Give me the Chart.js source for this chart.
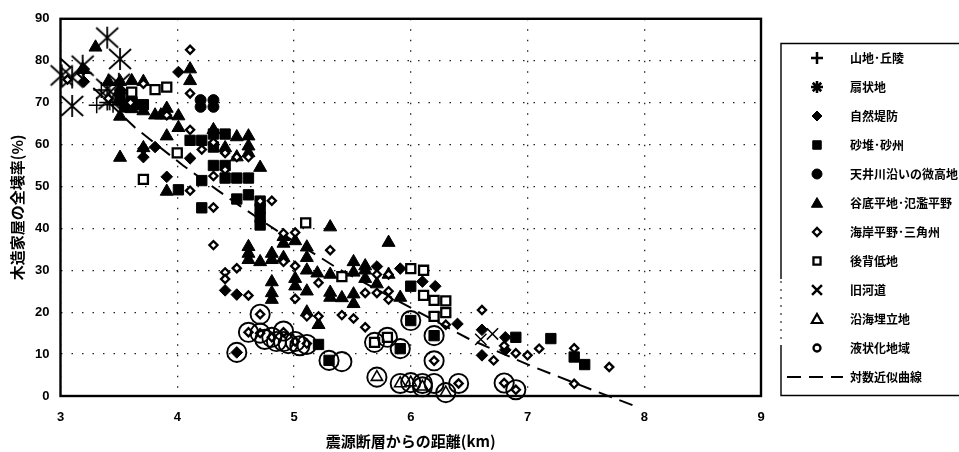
<!DOCTYPE html>
<html><head><meta charset="utf-8">
<style>html,body{margin:0;padding:0;background:#fff}canvas{display:block}</style>
<script src="https://cdn.jsdelivr.net/npm/chart.js@4"></script></head>
<body><canvas id="c" width="959" height="452"></canvas>
<script>
const xTicksTitle = '震源断層からの距離(km)';
const yTicksTitle = '木造家屋の全壊率(%)';
const sanchi = [[3.31,69.4],[3.4,70],[3.35,73],[3.45,69.5],[3.2,77]];
const senjo = [[3.01,76.5],[3.1,69.2],[3.1,76],[3.19,78.8],[3.4,85.5],[3.51,80.4],[3.4,73.3],[3.42,70.8],[3.5,74.5]];
const shizen = [[4.01,77.3],[3.2,78],[3.2,75],[3.71,57],[3.71,59],[3.81,59.4],[3.91,52.3],[4.11,56.7],[3.6,69],[3.51,73],
 [4.41,25.2],[4.51,24.2],[4.51,10.4],[5.71,30.9],[5.91,30.4],[6.1,27.3],[6.21,26.2],[6.4,17.2],[6.61,15.8],[6.61,9.7],[6.81,14],[6.81,11]];
const sakyu = [[4.01,49.2],[4.21,44.9],[4.21,51.4],[4.11,61],[4.21,61],[4.31,62.5],[4.41,62.5],[4.31,59.4],[4.31,55],[4.41,55],[4.41,52],[4.51,52],[4.61,52],[4.51,47],[4.61,48],[4.71,46.5],[4.71,44.7],[4.71,42.6],[4.71,40.8],
 [5.21,12.3],[5.3,8.5],[5.91,11.3],[6.2,14.4],[6,26.2],[6,18],[6.9,14],[7.2,13.7],[7.4,9.3],[7.49,7.5],[3.51,71],[3.61,70],[3.71,69.5]];
const tenjo = [[4.2,70.6],[4.31,70.6],[4.2,69],[4.31,69],[3.61,71],[3.51,70.5],[3.65,69.5],[3.55,69]];
const kokutei = [[3.3,83.2],[3.19,78],[3.51,75],[3.61,75.2],[3.71,75],[3.51,66.7],[3.71,68],[3.81,67],[3.86,67],[3.91,68.6],[3.91,67],[4.01,66.8],[3.51,56.9],[3.71,59.2],[3.91,62],[4.01,64],[4.11,78],[4.11,75.2],[3.91,48.8],[4.31,63.5],[4.51,61.8],[4.61,62],[4.61,59.6],[4.61,58],[4.41,59.2],[4.51,57],[4.71,54.5],[3.41,75],[3.51,73],[3.61,68.5],
 [5.31,40.3],[5.81,36.6],[4.61,35.6],[4.61,34],[4.61,32.5],[4.71,32],[4.81,34],[4.81,32.5],[4.91,33],[4.91,36.4],[4.91,38],[5.01,37],[5.11,35.5],[5.11,33],[5.11,30],[5.2,29.3],[5.31,29],[4.81,27.2],[4.81,24.6],[4.81,23],[5.01,28],[5.01,26.2],[5.11,25],[5.31,24.7],[5.31,23.5],[5.41,23.4],[5.51,24.3],[5.51,22],[5.51,32],[5.51,29.5],[5.61,31],[5.61,30],[5.61,28],[5.71,26.7],[5.81,29],[5.91,23.5],[5.21,17],[5.11,20]];
const kaigan = [[3.06,75.5],[4.11,82.6],[4.11,72.2],[3.71,74.5],[3.41,71],[3.91,67],[4.11,63.5],[4.21,58.8],[4.31,60.5],[4.41,58],[4.51,57],[4.61,57],[4.41,54],[4.31,52.5],[4.11,49],[4.31,45],[4.71,46.5],[4.81,46.6],[3.6,70],
 [4.31,36],[4.41,29.5],[4.41,27.9],[4.51,30.5],[4.61,24],[4.91,38.8],[5.01,39],[4.91,32],[5.01,31],[5.31,34.8],[5.01,23.2],[5.21,27],[5.11,19],[5.21,19],[5.41,19.3],[5.51,18.5],[5.61,16.4],[5.71,29],[5.61,24.6],[5.71,24.6],[5.81,25],[5.81,23],[5.81,29],
 [4.71,19.5],[4.61,15.2],[4.71,15],[4.81,14],[4.91,15.2],[5.01,13],[5.11,12.5],[6.61,20.5],[6.71,8.5],[6.3,17],[6.2,8.4],[6.41,3],[6.8,3.1],[6.9,1.5],[6.8,12],[6.9,10.2],[7,9.7],[7.1,11.3],[7.4,11.4],[7.7,6.9],[7.4,2.9]];
const kohai = [[3.71,51.7],[3.81,73.1],[3.91,73.7],[3.61,72.5],[4,58],[5.1,41.3],[5.41,28.5],[6,30.4],[6.11,30],[6.11,24],[6.2,22.8],[6.3,22.7],[6.3,19.9],[6.2,19],[5.69,12.8],[5.8,14]];
const kyukado = [[6.7,14.8],[6.6,13.5]];
const engan = [[5.71,4.5],[5.91,3],[6,3.2],[6.1,2.2],[6.3,0.8]];
const ekijoka = [[4.51,10.4],[4.71,19.5],[4.61,15.2],[4.71,15],[4.75,13.5],[4.81,14],[4.85,13],[4.91,15.5],[4.91,13],[4.95,12.5],[5.01,13],[5.05,12],[5.11,12.3],[5.3,8.5],[5.41,8.2],[5.69,12.8],[5.8,14],[5.91,11.3],[6,18],[6.2,14.4],[6.2,8.4],[5.71,4.5],[5.91,3],[6,3.2],[6.1,3],[6.2,3],[6.1,2.2],[6.3,0.8],[6.41,3],[6.8,3.1],[6.9,1.5]];
const trend = [[3,80.5],[3.3,73],[3.64,64],[4.05,55],[4.35,49],[4.54,45.3],[4.85,39.5],[5.2,33.5],[5.37,30.5],[6.03,20.6],[6.5,13.6],[7.02,7.3],[7.56,1.4],[7.93,-2.5]];
const seriesLabels = ['山地･丘陵','扇状地','自然堤防','砂堆･砂州','天井川沿いの微高地','谷底平地･氾濫平野','海岸平野･三角州','後背低地','旧河道','沿海埋立地','液状化地域','対数近似曲線'];

function asterisk(){
  const c=document.createElement('canvas');c.width=26;c.height=26;
  const g=c.getContext('2d');g.strokeStyle='#000';g.lineWidth=1.8;g.beginPath();
  g.moveTo(2,3);g.lineTo(24,23);g.moveTo(24,3);g.lineTo(2,23);g.moveTo(13,2);g.lineTo(13,24);g.stroke();return c;
}
const K='#000', W='#fff';
const styles=[
 {pointStyle:'cross',radius:8,backgroundColor:K,borderColor:K,borderWidth:1.5, lg:{r:6,b:2.5}},
 {pointStyle:asterisk(),radius:13,backgroundColor:K,borderColor:K,borderWidth:1.4, lg:{s:'star',r:6,b:2.5}},
 {pointStyle:'rectRot',radius:5.8,backgroundColor:K,borderColor:K,borderWidth:1, lg:{r:5,b:1}},
 {pointStyle:'rect',radius:7.3,backgroundColor:K,borderColor:K,borderWidth:1, lg:{r:6,b:1}},
 {pointStyle:'circle',radius:5.5,backgroundColor:K,borderColor:K,borderWidth:1, lg:{r:5,b:1}},
 {pointStyle:'triangle',radius:7.5,backgroundColor:K,borderColor:K,borderWidth:1, lg:{r:6.5,b:1}},
 {pointStyle:'rectRot',radius:4.1,backgroundColor:W,borderColor:K,borderWidth:2.3, lg:{r:4,b:2.3}},
 {pointStyle:'rect',radius:6.4,backgroundColor:W,borderColor:K,borderWidth:2.3, lg:{r:5,b:2.3}},
 {pointStyle:'crossRot',radius:8,backgroundColor:K,borderColor:K,borderWidth:1.5, lg:{r:7,b:2.5}},
 {pointStyle:'triangle',radius:6.5,backgroundColor:'rgba(0,0,0,0)',borderColor:K,borderWidth:1.6, lg:{r:6,b:2.2}},
 {pointStyle:'circle',radius:9.6,backgroundColor:'rgba(0,0,0,0)',borderColor:K,borderWidth:1.9, lg:{r:3.5,b:2.3}}
];
const allSeries=[sanchi,senjo,shizen,sakyu,tenjo,kokutei,kaigan,kohai,kyukado,engan,ekijoka];
const toXY=a=>a.map(p=>({x:p[0],y:p[1]}));
const datasets=allSeries.map((a,i)=>{const s=styles[i];return{
  label:seriesLabels[i],data:toXY(a),showLine:false,clip:false,order:20-i,
  pointStyle:s.pointStyle,pointRadius:s.radius,pointBackgroundColor:s.backgroundColor,pointBorderColor:s.borderColor,pointBorderWidth:s.borderWidth,pointHoverRadius:s.radius};});
datasets.push({label:seriesLabels[11],data:toXY(trend),type:'scatter',showLine:true,clip:false,order:1,tension:0,pointRadius:0,borderColor:K,borderWidth:2,borderDash:[14,8],fill:false});

const framePlugin={id:'frame',afterDatasetsDraw(ch){
  const a=ch.chartArea,g=ch.ctx;g.save();g.strokeStyle='#000';g.lineWidth=2.4;
  g.strokeRect(a.left,a.top,a.right-a.left,a.bottom-a.top);g.restore();}};
const legendPlugin={id:'sideLegend',afterDraw(ch){
  const g=ch.ctx;g.save();
  g.strokeStyle='#000';g.lineWidth=1.4;g.beginPath();
  g.moveTo(959,43.5);g.lineTo(781,43.5);g.lineTo(781,279);g.moveTo(781,345);g.lineTo(781,395.5);g.lineTo(959,395.5);g.stroke();
  g.setLineDash([2,6]);g.lineWidth=1;g.beginPath();g.moveTo(781,281);g.lineTo(781,345);g.stroke();g.setLineDash([]);
  g.textAlign='left';g.textBaseline='middle';g.font='bold 12px "Noto Sans CJK JP"';
  const rowY=i=>58+i*29;
  seriesLabels.forEach((t,i)=>{
    const y=rowY(i);
    g.fillStyle='#000';g.fillText(t,850,y);
    if(i<11){const s=styles[i],l=s.lg;
      g.strokeStyle=s.borderColor;g.fillStyle=s.backgroundColor;g.lineWidth=l.b;
      Chart.helpers.drawPoint(g,{pointStyle:l.s||s.pointStyle,radius:l.r,rotation:0,borderWidth:l.b},817,y+(i==5||i==9?1:0));
    }else{
      g.strokeStyle='#000';g.lineWidth=2;g.setLineDash([14,8]);g.beginPath();g.moveTo(787,y);g.lineTo(843,y);g.stroke();g.setLineDash([]);
    }
  });
  g.restore();}};
const gridOpts={color:'#222',lineWidth:1.3,drawTicks:false,tickLength:0};
const dash={dash:[1.5,9]};
new Chart(document.getElementById('c'),{
  type:'scatter',
  data:{datasets},
  plugins:[framePlugin,legendPlugin],
  options:{
    responsive:false,animation:false,devicePixelRatio:1,
    layout:{padding:{left:0,top:14,right:198,bottom:0}},
    plugins:{legend:{display:false},tooltip:{enabled:false}},
    scales:{
      x:{type:'linear',min:3,max:9,
        ticks:{stepSize:1,padding:14,color:'#000',font:{family:'"Liberation Sans"',weight:'bold',size:13},maxRotation:0,autoSkip:false},
        grid:gridOpts,border:{display:false,dash:dash.dash},
        afterFit:s=>{s.height=56;},
        title:{display:true,text:xTicksTitle,color:'#000',font:{family:'"Noto Sans CJK JP"',weight:'bold',size:15},padding:{top:2,bottom:2}}},
      y:{type:'linear',min:0,max:90,
        ticks:{stepSize:10,padding:11,color:'#000',font:{family:'"Liberation Sans"',weight:'bold',size:13}},
        grid:gridOpts,border:{display:false,dash:dash.dash},
        afterFit:s=>{s.width=60.5;},
        title:{display:true,text:yTicksTitle,color:'#000',font:{family:'"Noto Sans CJK JP"',weight:'bold',size:15},padding:{top:8,bottom:8}}}
    }
  }
});
</script></body></html>
